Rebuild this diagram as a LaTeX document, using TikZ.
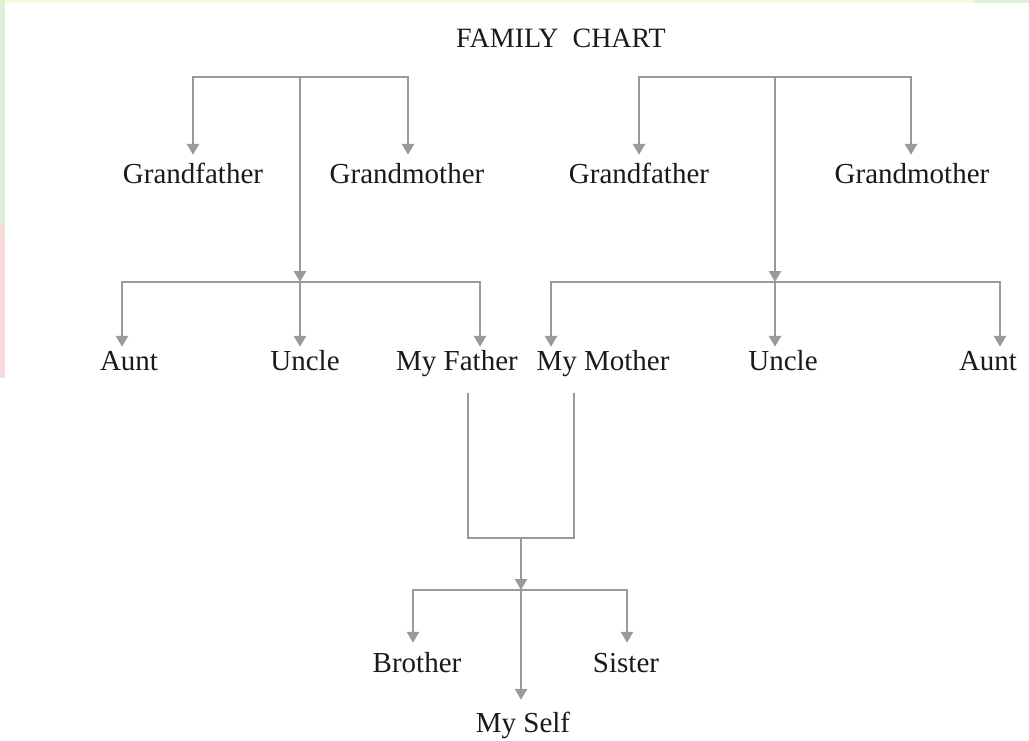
\documentclass[tikz,border=0pt]{standalone}
\usepackage{fontspec}
\setmainfont{Liberation Serif}
\usetikzlibrary{arrows.meta}
\definecolor{linec}{HTML}{9A9A9A}
\definecolor{textc}{HTML}{1A1A1A}
\definecolor{wmgreen}{HTML}{DDEFDB}
\definecolor{wmpink}{HTML}{F4DADA}
\definecolor{wmyellow}{HTML}{FBF7D8}
\tikzset{
  conn/.style={draw=linec, line width=2.8pt},
  arr/.style={conn, -{Triangle[width=12pt,length=11pt]}},
  lbl/.style={font=\fontsize{29}{34}\selectfont, text=textc, text height=20pt, text depth=6pt, inner xsep=0pt, anchor=base},
  rowa/.style={lbl, inner ysep=9pt},
  rowb/.style={lbl, inner ysep=3pt},
  rowc/.style={lbl, inner ysep=12pt},
  titlelbl/.style={font=\fontsize{28}{32}\selectfont, text=textc, anchor=base, inner sep=0pt}
}
\begin{document}
\begin{tikzpicture}[x=1pt,y=-1pt]
\useasboundingbox (0,0) rectangle (1029,741);
\fill[white] (0,0) rectangle (1029,741);
% faint watermark edges
\fill[wmyellow] (0,0) rectangle (975,3);
\fill[wmgreen] (0,0) rectangle (5,225);
\fill[wmpink] (0,225) rectangle (5,378);
\fill[wmgreen] (975,0) rectangle (1029,3);

\node[titlelbl] (title) at (561,48) {FAMILY\ \ CHART};

% first row
\node[rowa] (gf1) at (193,184) {Grandfather};
\node[rowa] (gm1) at (407,184) {Grandmother};
\node[rowa] (gf2) at (639,184) {Grandfather};
\node[rowa] (gm2) at (912,184) {Grandmother};

% second row
\node[rowb] (aunt1) at (129,370) {Aunt};
\node[rowb] (uncle1) at (305,370) {Uncle};
\node[rowb] (father) at (457,370) {My Father};
\node[rowb] (mother) at (603,370) {My Mother};
\node[rowb] (uncle2) at (783,370) {Uncle};
\node[rowb] (aunt2) at (988,370) {Aunt};

% third row
\node[rowa] (brother) at (417,672) {Brother};
\node[rowa] (sister) at (626,672) {Sister};
\node[rowc] (self) at (523,732) {My Self};

% junctions
\coordinate (j1) at (300,77);
\coordinate (j2) at (300,282);
\coordinate (j3) at (775,77);
\coordinate (j4) at (775,282);
\coordinate (jp) at (521,538);
\coordinate (jc) at (521,590);

% left family
\draw[arr] (j1) -| (gf1.north);
\draw[arr] (j1) -| ([xshift=1pt]gm1.north);
\draw[arr] (j1) -- (j2);
\draw[arr] (j2) -| ([xshift=-7pt]aunt1.north);
\draw[arr] (j2) -- (j2 |- uncle1.north);
\draw[arr] (j2) -| ([xshift=23pt]father.north);

% right family
\draw[arr] (j3) -| (gf2.north);
\draw[arr] (j3) -| ([xshift=-1pt]gm2.north);
\draw[arr] (j3) -- (j4);
\draw[arr] (j4) -| ([xshift=-52pt]mother.north);
\draw[arr] (j4) -- (j4 |- uncle2.north);
\draw[arr] (j4) -| ([xshift=12pt]aunt2.north);

% parents to children
\draw[conn] ([xshift=11pt,yshift=-14pt]father.south) |- (jp) -| ([xshift=-29pt,yshift=-14pt]mother.south);
\draw[arr] (jp) -- (jc);
\draw[arr] (jc) -| ([xshift=-4pt]brother.north);
\draw[arr] (jc) -| ([xshift=1pt]sister.north);
\draw[arr] (jc) -- (jc |- self.north);
\end{tikzpicture}
\end{document}
